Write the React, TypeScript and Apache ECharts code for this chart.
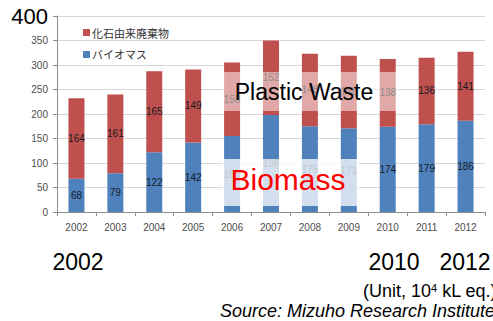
import React, { useEffect, useRef } from "react";
import * as echarts from "echarts";

// Waste-derived fuel supply in Japan (unit: 10^4 kL oil equivalent)
const years = ["2002", "2003", "2004", "2005", "2006", "2007", "2008", "2009", "2010", "2011", "2012"];
const fossilWaste = [164, 161, 165, 149, 150, 152, 148, 148, 138, 136, 141];
const biomass = [68, 79, 122, 142, 155, 198, 175, 171, 174, 179, 186];
const fossilName = "化石由来廃棄物";
const biomassName = "バイオマス";
const yTicks = { min: 0, max: 400, step: 50 };

const SANS = "'Liberation Sans', Arial, sans-serif";
const CJK = "'Noto Sans CJK JP', sans-serif";

export default function App() {
  const ref = useRef<HTMLDivElement>(null);

  useEffect(() => {
    if (!ref.current) return;
    const chart = echarts.init(ref.current, undefined, { renderer: "svg" });

    const label = {
      show: true,
      position: "inside",
      fontSize: 10,
      fontFamily: SANS,
      color: "#141a24",
    };

    chart.setOption({
      animation: false,
      backgroundColor: "#ffffff",
      grid: { left: 57, right: 8, top: 16, bottom: 109, containLabel: false },
      legend: {
        orient: "vertical",
        left: 78,
        top: 22,
        itemWidth: 7,
        itemHeight: 7,
        itemGap: 11,
        icon: "rect",
        data: [fossilName, biomassName],
        textStyle: { fontSize: 11, fontFamily: CJK, color: "#333333", padding: [0, 0, 0, -3] },
      },
      xAxis: {
        type: "category",
        data: years,
        axisLine: { lineStyle: { color: "#8c8c8c" } },
        axisTick: { show: true, length: 4, lineStyle: { color: "#8c8c8c" } },
        axisLabel: { fontSize: 10, fontFamily: SANS, color: "#4d4d4d", margin: 10 },
      },
      yAxis: {
        type: "value",
        min: yTicks.min,
        max: yTicks.max,
        interval: yTicks.step,
        axisLine: { show: true, lineStyle: { color: "#8c8c8c" } },
        axisTick: { show: true, length: 4, lineStyle: { color: "#8c8c8c" } },
        splitLine: { lineStyle: { color: "#d6d6d6" } },
        axisLabel: {
          fontSize: 10,
          fontFamily: SANS,
          color: "#4d4d4d",
          margin: 9,
          formatter: (v: number) => (v === yTicks.max ? `{big|${v}}` : String(v)),
          rich: { big: { fontSize: 22, fontFamily: SANS, color: "#000000" } },
        },
      },
      series: [
        {
          name: biomassName,
          type: "bar",
          stack: "total",
          barWidth: 16,
          data: biomass,
          itemStyle: { color: "#4f81bd" },
          label,
        },
        {
          name: fossilName,
          type: "bar",
          stack: "total",
          barWidth: 16,
          data: fossilWaste,
          itemStyle: { color: "#c0504d" },
          label,
        },
      ],
      graphic: [
        // translucent highlight boxes over the 2006-2010 bars
        {
          type: "rect",
          z: 100,
          shape: { x: 222, y: 72, width: 177, height: 39 },
          style: { fill: "rgba(255,255,255,0.5)" },
        },
        {
          type: "rect",
          z: 100,
          shape: { x: 222, y: 159, width: 137, height: 47 },
          style: { fill: "rgba(255,255,255,0.75)" },
        },
        {
          type: "text",
          z: 101,
          x: 304,
          y: 92,
          style: { text: "Plastic Waste", fontSize: 23, fontFamily: SANS, fill: "#000", align: "center", verticalAlign: "middle" },
        },
        {
          type: "text",
          z: 101,
          x: 288,
          y: 179,
          style: { text: "Biomass", fontSize: 30, fontFamily: SANS, fill: "#ff0000", align: "center", verticalAlign: "middle" },
        },
        {
          type: "text",
          x: 78,
          y: 262,
          style: { text: "2002", fontSize: 23, fontFamily: SANS, fill: "#000", align: "center", verticalAlign: "middle" },
        },
        {
          type: "text",
          x: 394,
          y: 262,
          style: { text: "2010", fontSize: 23, fontFamily: SANS, fill: "#000", align: "center", verticalAlign: "middle" },
        },
        {
          type: "text",
          x: 465,
          y: 262,
          style: { text: "2012", fontSize: 23, fontFamily: SANS, fill: "#000", align: "center", verticalAlign: "middle" },
        },
        {
          type: "text",
          x: 363,
          y: 291,
          style: {
            text: "(Unit, 10{sup|4} kL eq.)",
            fontSize: 18,
            fontFamily: SANS,
            fill: "#000",
            align: "left",
            verticalAlign: "middle",
            rich: { sup: { fontSize: 11, fontFamily: SANS, fill: "#000", verticalAlign: "top", lineHeight: 18 } },
          },
        },
        {
          type: "text",
          x: 220,
          y: 311,
          style: {
            text: "Source: Mizuho Research Institute",
            fontSize: 18,
            fontStyle: "italic",
            fontFamily: SANS,
            fill: "#000",
            align: "left",
            verticalAlign: "middle",
          },
        },
      ],
    });

    return () => chart.dispose();
  }, []);

  return (
    <div
      ref={ref}
      style={{ position: "fixed", left: 0, top: 0, width: 493, height: 321 }}
    />
  );
}
